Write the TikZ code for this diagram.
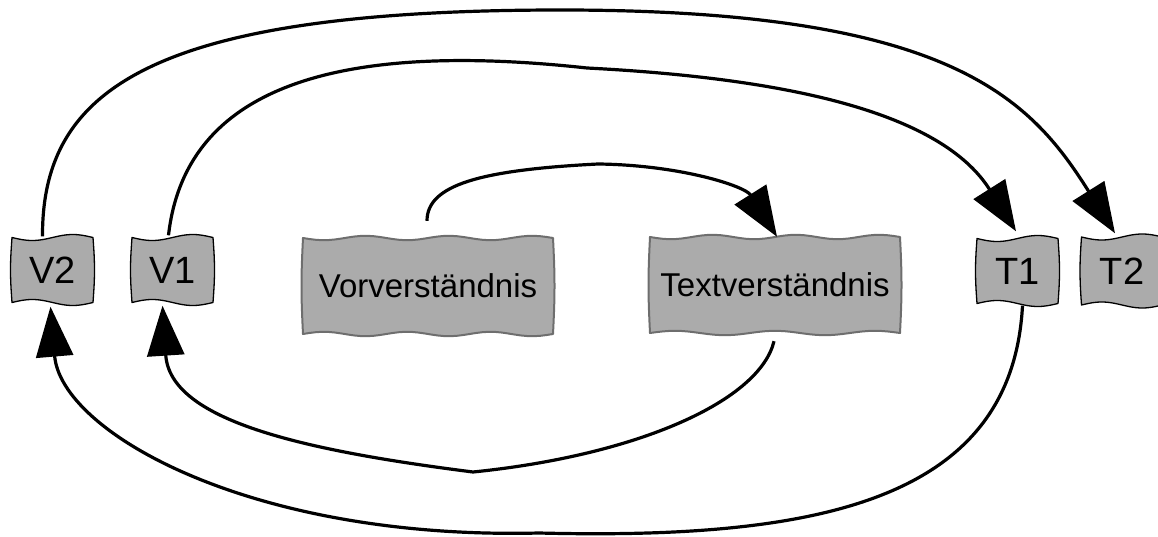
\documentclass[tikz,border=0pt]{standalone}
\usepackage{fontspec}
\setmainfont{Liberation Sans}
\usetikzlibrary{arrows.meta,calc}

\definecolor{boxgray}{HTML}{ABABAB}
\definecolor{edgegray}{HTML}{6E6E6E}

% wavy box outline: #1 style, #2 cx, #3 cy, #4 width, #5 height,
% #6 waves on top, #7 waves on bottom, #8 wave amplitude
\newcommand\wavybox[8]{%
  \path[#1]
    plot[domain=0:1,samples=40] ({#2-#4/2+#4*\x},{#3-#5/2+#8*sin(360*#6*\x)})
    -- plot[domain=0:1,samples=20] ({#2+#4/2+1.5*sin(180*\x)},{#3-#5/2+#5*\x})
    -- plot[domain=1:0,samples=40] ({#2-#4/2+#4*\x},{#3+#5/2-#8*sin(360*#7*\x)})
    -- plot[domain=1:0,samples=20] ({#2-#4/2-1.5*sin(180*\x)},{#3-#5/2+#5*\x})
    -- cycle;}

\tikzset{
  smallbox/.style={fill=boxgray,draw=black,line width=1.3pt,line join=round},
  bigbox/.style={fill=boxgray,draw=edgegray,line width=2pt,line join=round},
  smalllabel/.style={inner sep=0pt,minimum width=81pt,minimum height=65pt,
    font=\fontsize{38}{40}\selectfont},
  biglabel/.style={inner sep=0pt,minimum width=250pt,minimum height=96pt,
    font=\fontsize{33}{36}\selectfont},
  flow/.style={line width=3.2pt,-{Triangle[length=50pt,width=37pt]}},
}

\begin{document}
\begin{tikzpicture}[x=1pt,y=-1pt]
\useasboundingbox (0,0) rectangle (1158,537);

% box shapes
\wavybox{smallbox}{52.5}{270}{81}{65}{1}{1}{3}
\wavybox{smallbox}{172.5}{270}{81}{65}{1}{1}{3}
\wavybox{bigbox}{428}{286}{250}{96}{3}{3}{2.2}
\wavybox{bigbox}{775}{285}{250}{96}{3}{2.5}{2.2}
\wavybox{smallbox}{1017.5}{271}{81}{65}{1}{1}{3}
\wavybox{smallbox}{1122}{271}{81}{68}{1}{1}{3}

% labels
\node[smalllabel] (V2) at (52.5,270) {V2};
\node[smalllabel] (V1) at (172.5,270) {V1};
\node[biglabel] (Vor) at (428,286) {Vorverständnis};
\node[biglabel] (Text) at (775,285) {Textverständnis};
\node[smalllabel] (T1) at (1017.5,271) {T1};
\node[smalllabel] (T2) at (1122,271) {T2};

% inner loop: Vorverständnis -> Textverständnis -> V1
\draw[flow] ($(Vor.north)+(-1,-17)$) .. controls (427,185) and (480,170) .. (598,164)
  .. controls (680,165) and (745,186) .. ($(Text.north)+(2,0)$);
\draw[flow] ($(Text.south)+(-1,8)$) .. controls (760,400) and (640,455) .. (473,472)
  .. controls (300,450) and (170,420) .. ($(V1.south)+(-10,3)$);

% middle loop: V1 -> T1 -> V2
\draw[flow] ($(V1.north)+(-4,-2)$) .. controls (185,90) and (330,40) .. (587,68)
  .. controls (820,80) and (947,122) .. ($(T1.north)+(-1.5,-7)$);
\draw[flow] ($(T1.south)+(5,2)$) .. controls (1012,500) and (820,540) .. (539,533)
  .. controls (250,540) and (61,432) .. ($(V2.south)+(-2,4)$);

% outer arc: V2 -> T2
\draw[flow] ($(V2.north)+(-10,-1)$) .. controls (42,90) and (150,10) .. (561,10)
  .. controls (950,10) and (1030,98) .. ($(T2.north)+(-7,-5)$);
\end{tikzpicture}
\end{document}
